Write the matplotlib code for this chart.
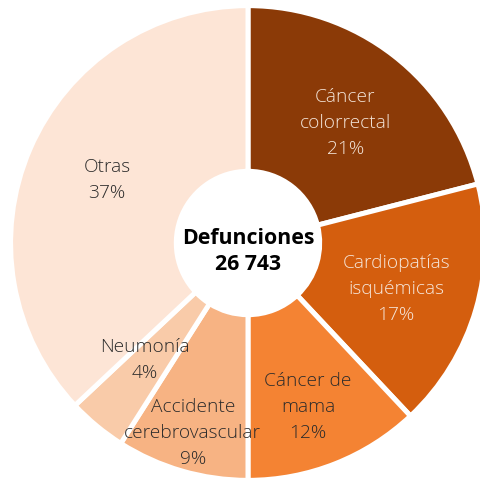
import matplotlib
matplotlib.use("Agg")
import matplotlib.pyplot as plt
import numpy as np

categories = ["Cáncer\ncolorrectal", "Cardiopatías\nisquémicas", "Cáncer de\nmama",
              "Accidente\ncerebrovascular", "Neumonía", "Otras"]
values = [21, 17, 12, 9, 4, 37]
colors = ["#8B3A07", "#D45E0E", "#F48333", "#F7B383", "#F9CBA9", "#FDE5D6"]
text_colors = ["#F3E4D8", "#F6E6DA", "#2B2B2B", "#2B2B2B", "#2B2B2B", "#2B2B2B"]
label_r = [0.657, 0.66, 0.743, 0.842, 0.663, 0.657]
label_dang = [-1.2, -1.1, -1.5, 0.0, -1.8, -0.7]
center_title = "Defunciones\n26 743"

plt.rcParams['font.family'] = ['Open Sans', 'DejaVu Sans']

fig = plt.figure(figsize=(4.8, 4.82), dpi=100)
ax = fig.add_axes([0, 0, 1, 1])
wedges, _ = ax.pie(values, colors=colors, startangle=90, counterclock=False,
                   radius=1.01, wedgeprops=dict(width=0.705, edgecolor="white", linewidth=3.6))

total = sum(values)
cum = 0
for cat, v, tc, r, da in zip(categories, values, text_colors, label_r, label_dang):
    mid = 90 - (cum + v / 2) / total * 360 + da
    cum += v
    ang = np.deg2rad(mid)
    ax.text(r * np.cos(ang), r * np.sin(ang), f"{cat}\n{v}%", ha="center", va="center",
            fontsize=13.8, color=tc, linespacing=1.56, fontweight="light")

ax.text(0, -0.037, center_title, ha="center", va="center", fontsize=15.3,
        fontweight="bold", color="black", linespacing=1.33)

ax.set_xlim(-1.055, 0.987)
ax.set_ylim(-1.017, 1.034)
ax.set_aspect("auto")
ax.axis("off")
fig.savefig("out.png", dpi=100)
